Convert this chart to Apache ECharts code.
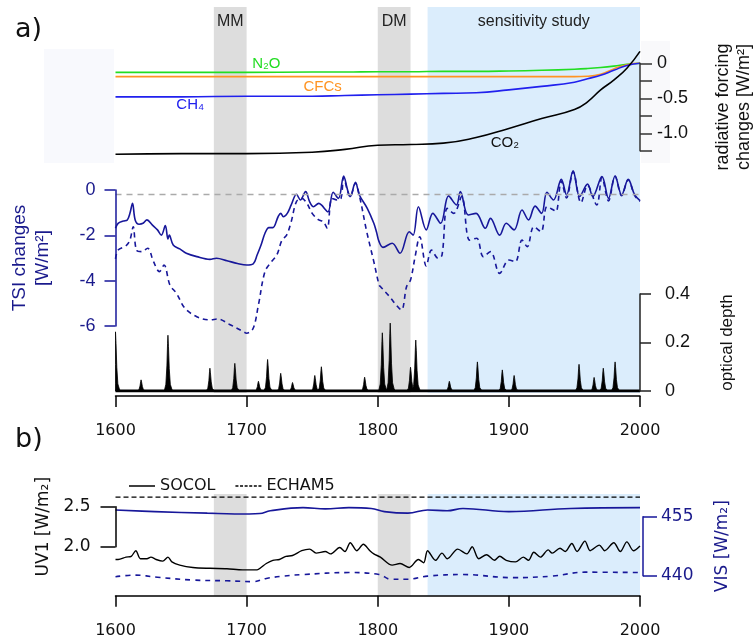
<!DOCTYPE html>
<html><head><meta charset="utf-8">
<script src="https://cdn.jsdelivr.net/npm/echarts@6/dist/echarts.min.js"></script>
<style>html,body{margin:0;padding:0;background:#fff}#c{width:753px;height:638px}</style>
</head><body><div id="c"></div>
<script>
// ---------- data ----------
const BAND_NAMES = ['MM', 'DM', 'sensitivity study'];
const BAND_START = [1675, 1800, 1838];
const BAND_END   = [1700, 1825, 2000];

const RF_YEARS = [1600,1650,1700,1750,1775,1800,1825,1850,1875,1900,1925,1950,1960,1970,1980,1990,2000];
const RF_CO2 = [-1.30,-1.29,-1.29,-1.27,-1.23,-1.17,-1.16,-1.14,-1.06,-0.93,-0.79,-0.66,-0.55,-0.38,-0.24,-0.07,0.17];
const RF_CH4 = [-0.48,-0.48,-0.47,-0.47,-0.46,-0.45,-0.44,-0.43,-0.42,-0.38,-0.33,-0.27,-0.22,-0.17,-0.10,-0.03,0.0];
const RF_CFC = [-0.19,-0.19,-0.19,-0.19,-0.19,-0.19,-0.19,-0.19,-0.19,-0.19,-0.19,-0.19,-0.185,-0.155,-0.08,-0.02,0.0];
const RF_N2O = [-0.13,-0.13,-0.13,-0.125,-0.125,-0.12,-0.12,-0.115,-0.115,-0.11,-0.10,-0.085,-0.075,-0.06,-0.04,-0.015,0.0];
const RF_LABELS = [['N₂O',1715,-0.01],['CFCs',1758,-0.34],['CH₄',1657,-0.60],['CO₂',1897,-1.14]];
const RF_TICK_LABELS = [[0,'0'],[-0.5,'-0.5'],[-1,'-1.0']];

const TSI_REF = -0.2;
const TSI_SOLID = [[1600,-1.69],[1602,-1.47],[1606,-1.37],[1609,-1.32],[1611,-1.03],[1613,-0.59],[1615,-1.32],[1618,-1.51],[1621,-1.47],[1624,-1.32],[1628,-1.54],[1632,-1.76],[1635,-1.99],[1638,-1.57],[1640,-2.16],[1641,-1.99],[1644,-2.43],[1649,-2.6],[1654,-2.79],[1662,-2.94],[1672,-3.06],[1677,-3.01],[1685,-3.12],[1693,-3.24],[1700,-3.31],[1705,-3.26],[1708,-2.87],[1711,-2.43],[1714,-1.91],[1717,-1.66],[1720,-1.66],[1724,-1.18],[1726,-1.03],[1728,-1.18],[1731,-1.03],[1734,-0.66],[1738,-0.19],[1741,-0.44],[1745,-0.07],[1748,-0.51],[1751,-0.74],[1755,-0.59],[1757,-0.66],[1762,-0.96],[1766,-0.10],[1770,-0.37],[1774,0.62],[1777,0.0],[1779,-0.29],[1783,0.34],[1786,-0.22],[1792,-0.81],[1797,-1.47],[1799,-1.84],[1801,-2.28],[1804,-2.53],[1811,-2.35],[1817,-2.79],[1824,-1.84],[1827,-1.99],[1831,-0.74],[1837,-1.76],[1842,-1.03],[1848,-1.47],[1854,-0.26],[1860,-0.66],[1863,-0.07],[1869,-1.10],[1875,-1.03],[1882,-1.69],[1886,-1.25],[1893,-1.99],[1898,-1.47],[1904,-1.76],[1910,-0.88],[1915,-1.32],[1920,-0.71],[1925,-1.03],[1929,-0.10],[1934,-0.44],[1940,0.47],[1944,-0.22],[1949,0.85],[1954,-0.29],[1960,0.26],[1964,-0.29],[1971,0.59],[1976,-0.37],[1981,0.62],[1986,-0.22],[1991,0.47],[1996,-0.22],[2000,-0.47]];
const TSI_DASHED = [[1600,-3.04],[1602,-2.65],[1608,-2.46],[1611,-2.21],[1613.5,-1.62],[1616,-2.65],[1620,-2.72],[1624.5,-2.57],[1629,-3.16],[1633.5,-3.6],[1637,-3.31],[1641.5,-4.19],[1646.5,-4.56],[1653,-5.22],[1662,-5.59],[1672,-5.73],[1678,-5.69],[1687,-5.93],[1697.5,-6.25],[1700,-6.32],[1705,-6.1],[1709,-5.07],[1714,-3.6],[1719,-3.16],[1723,-2.87],[1727,-2.21],[1730.5,-1.99],[1734,-1.4],[1738,-0.51],[1742,-0.37],[1746,-0.59],[1750,-1.03],[1755,-1.32],[1758.5,-1.4],[1761.5,-1.69],[1765,-0.37],[1769,-0.44],[1772,-0.37],[1774,0.55],[1777,-0.05],[1779,-0.3],[1783,0.3],[1786,-0.25],[1791.6,-1.84],[1797,-3.16],[1801,-4.19],[1802,-4.26],[1809,-4.7],[1813,-5.0],[1818,-5.29],[1822,-4.26],[1825,-3.97],[1828.5,-2.94],[1832,-2.06],[1837,-3.35],[1841,-2.65],[1846,-3.01],[1849,-2.87],[1853,-0.81],[1858,-1.03],[1864,-0.29],[1870,-2.21],[1875.5,-2.13],[1880.5,-2.94],[1886,-2.72],[1893,-3.68],[1900,-3.09],[1905,-3.16],[1910,-2.21],[1914,-2.5],[1919,-1.62],[1924.5,-1.84],[1929,-0.74],[1934,-0.88],[1936,-0.95],[1940,0.4],[1944,-0.35],[1949,0.8],[1955,-0.56],[1960,0.2],[1967,-0.66],[1971,0.55],[1976,-0.48],[1981,0.6],[1986,-0.25],[1991,0.45],[1996,-0.25],[2000,-0.5]];

const VOLC_YEARS = [1600,1619.5,1640,1672,1691,1709,1716,1726,1735,1752,1757,1790,1803.5,1809.5,1825,1829,1854.6,1876,1895,1904,1953.5,1965,1972,1981];
const VOLC_TAU   = [0.244,0.046,0.23,0.094,0.114,0.04,0.13,0.073,0.035,0.064,0.10,0.057,0.24,0.28,0.098,0.21,0.04,0.12,0.087,0.064,0.11,0.056,0.094,0.12];

const UV_SOCOL = [[1600,1.84],[1602,1.84],[1608,1.87],[1612,1.88],[1615.5,1.95],[1619,1.85],[1624,1.85],[1627,1.87],[1631,1.84],[1636,1.82],[1640,1.87],[1643,1.81],[1649,1.77],[1659,1.74],[1672,1.73],[1685,1.725],[1697,1.71],[1708,1.71],[1711,1.74],[1715,1.79],[1720,1.83],[1725,1.84],[1730,1.88],[1735,1.89],[1742,1.95],[1748,1.97],[1753,1.92],[1760,1.94],[1764,1.91],[1771,1.99],[1775,1.94],[1779,2.05],[1784,1.95],[1789,2.03],[1794,1.95],[1797,1.91],[1802,1.87],[1811,1.77],[1817,1.79],[1824,1.74],[1831,1.84],[1835,1.80],[1838,1.95],[1844,1.83],[1849,1.92],[1853,1.85],[1861,1.97],[1868,1.91],[1872,2.0],[1877,1.85],[1883,1.90],[1889,1.83],[1893,1.88],[1898,1.83],[1905,1.81],[1911,1.87],[1915,1.83],[1919,1.93],[1924,1.87],[1930,1.96],[1933,1.92],[1939,1.98],[1943,1.94],[1948,2.04],[1952,1.94],[1958,2.07],[1962,1.95],[1969,2.02],[1973,1.95],[1980,2.05],[1985,1.94],[1990,2.06],[1995,1.95],[2000,2.01]];
const UV_ECHAM = [[1600,2.62],[2000,2.62]];
const VIS_SOCOL = [[1600,456.7],[1630,456.3],[1670,455.9],[1702,455.7],[1710,455.8],[1718,456.5],[1743,457.3],[1760,457.0],[1778,457.3],[1795,457.1],[1805,456.3],[1823,455.9],[1838,456.7],[1853,456.5],[1865,457.1],[1900,456.3],[1947,457.1],[2000,457.3]];
const VIS_ECHAM = [[1600,439.75],[1615,440.15],[1632,439.6],[1659,438.9],[1685,438.7],[1705,438.5],[1715,439.3],[1728,439.9],[1743,440.3],[1778,440.8],[1801,440.3],[1810,439.1],[1823,439.1],[1838,439.9],[1865,440.3],[1903,439.5],[1933,439.9],[1958,440.9],[2000,440.8]];

// ---------- chart ----------
const NAVY = '#17179a';
const NAVY_TXT = '#1a1a8c';
const HELV = 'Liberation Sans';
const DEJA = 'DejaVu Sans';
const GL = 115.5, GR = 113;

function zip(xs, ys){ return xs.map((x,i)=>[x, ys[i]]); }
function mkGrid(top, height){ return {left:GL, right:GR, top:top, height:height, containLabel:false, outerBoundsMode:'none'}; }
function hiddenX(gi){ return {gridIndex:gi, type:'value', min:1600, max:2000, show:false, axisLine:{onZero:false}}; }
function visibleX(gi, offset){
  return {gridIndex:gi, type:'value', min:1600, max:2000, interval:100, position:'bottom', offset:offset, z:5,
    axisLine:{show:true, onZero:false, lineStyle:{color:'#000', width:1.5}},
    axisTick:{show:true, length:11, lineStyle:{color:'#000', width:1.5}},
    axisLabel:{margin:27, fontSize:16, fontFamily:DEJA, color:'#111', formatter:v=>String(v)},
    splitLine:{show:false}};
}

const chart = echarts.init(document.getElementById('c'), null, {renderer:'canvas'});

const bandAreas = BAND_NAMES.map((n,i)=>[
  {xAxis:BAND_START[i], name:n, itemStyle:{color: i<2 ? '#dddddd' : '#dbedfc'}},
  {xAxis:BAND_END[i]}
]);

const option = {
  animation:false,
  backgroundColor:'#fff',
  grid:[
    mkGrid(7, 386),        // 0 bands a
    mkGrid(63.3, 87.5),    // 1 radiative forcing
    mkGrid(190, 136),      // 2 TSI
    mkGrid(294, 97),       // 3 optical depth
    mkGrid(494, 101.7),    // 4 bands b
    mkGrid(506.7, 40),     // 5 UV1
    mkGrid(516.7, 59)      // 6 VIS
  ],
  xAxis:[hiddenX(0), hiddenX(1), hiddenX(2), visibleX(3,5), visibleX(4,0), hiddenX(5), hiddenX(6)],
  yAxis:[
    {gridIndex:0, type:'value', min:0, max:1, show:false},
    {gridIndex:1, type:'value', position:'right', min:-1.25, max:0, interval:0.25, z:5,
      axisLine:{show:true, lineStyle:{color:'#333', width:1.5}},
      axisTick:{show:true, length:12, lineStyle:{color:'#333', width:1.5}},
      axisLabel:{margin:17, fontSize:18, fontFamily:HELV, color:'#111',
        formatter:v=>{const t=RF_TICK_LABELS.find(a=>Math.abs(a[0]-v)<1e-6); return t?t[1]:'';}},
      splitLine:{show:false},
      name:'radiative forcing\nchanges [W/m²]', nameLocation:'middle', nameGap:73,
      nameTextStyle:{fontSize:18, lineHeight:21, fontFamily:HELV, color:'#111'}},
    {gridIndex:2, type:'value', position:'left', min:-6, max:0, interval:2, z:5,
      axisLine:{show:true, lineStyle:{color:NAVY, width:1.5}},
      axisTick:{show:true, length:11, lineStyle:{color:NAVY, width:1.5}},
      axisLabel:{margin:20, fontSize:18, fontFamily:HELV, color:NAVY_TXT},
      splitLine:{show:false},
      name:'TSI changes\n[W/m²]', nameLocation:'middle', nameGap:61,
      nameTextStyle:{fontSize:19, lineHeight:23, fontFamily:HELV, color:NAVY_TXT}},
    {gridIndex:3, type:'value', position:'right', min:0, max:0.4, interval:0.2, z:5,
      axisLine:{show:true, lineStyle:{color:'#222', width:1.5}},
      axisTick:{show:true, length:11, lineStyle:{color:'#222', width:1.5}},
      axisLabel:{margin:25, fontSize:18, fontFamily:HELV, color:'#111', formatter:v=> v===0?'0':v.toFixed(1)},
      splitLine:{show:false},
      name:'optical depth', nameLocation:'middle', nameGap:79,
      nameTextStyle:{fontSize:17, fontFamily:HELV, color:'#111'}},
    {gridIndex:4, type:'value', min:0, max:1, show:false},
    {gridIndex:5, type:'value', position:'left', min:2.0, max:2.5, interval:0.5, z:5,
      axisLine:{show:true, lineStyle:{color:'#000', width:1.5}},
      axisTick:{show:true, length:15, lineStyle:{color:'#000', width:1.5}},
      axisLabel:{margin:25, fontSize:17, fontFamily:DEJA, color:'#111', formatter:v=>v.toFixed(1)},
      splitLine:{show:false},
      name:'UV1 [W/m₂]', nameLocation:'middle', nameGap:60,
      nameTextStyle:{fontSize:17, fontFamily:DEJA, color:'#111'}},
    {gridIndex:6, type:'value', position:'right', offset:3, min:440, max:455, interval:15, z:5,
      axisLine:{show:true, lineStyle:{color:NAVY, width:1.5}},
      axisTick:{show:true, length:14, lineStyle:{color:NAVY, width:1.5}},
      axisLabel:{margin:18, fontSize:17, fontFamily:DEJA, color:NAVY_TXT},
      splitLine:{show:false},
      name:'VIS [W/m₂]', nameLocation:'middle', nameGap:71,
      nameTextStyle:{fontSize:17, fontFamily:DEJA, color:NAVY_TXT}}
  ],
  legend:{
    left:124, top:473, itemWidth:26, itemHeight:1.5, itemGap:20,
    data:[
      {name:'SOCOL', icon:'path://M0,0H26V1.5H0Z'},
      {name:'ECHAM5', icon:'path://M0,0H3V1.5H0Z M4.6,0H7.6V1.5H4.6Z M9.2,0H12.2V1.5H9.2Z M13.8,0H16.8V1.5H13.8Z M18.4,0H21.4V1.5H18.4Z M23,0H26V1.5H23Z'}
    ],
    textStyle:{fontSize:16, fontFamily:DEJA, color:'#111'}
  },
  graphic:[
    {type:'rect', z:-10, shape:{x:44, y:49, width:70, height:114}, style:{fill:'#f8f9fd'}},
    {type:'rect', z:-10, shape:{x:641, y:41, width:29, height:122}, style:{fill:'#f9f9fb'}},
    {type:'text', left:15, top:16, style:{text:'a)', font:'27px "DejaVu Sans"', fill:'#111'}},
    {type:'text', left:15, top:426, style:{text:'b)', font:'27px "DejaVu Sans"', fill:'#111'}}
  ],
  series:[
    // bands panel a
    {type:'line', xAxisIndex:0, yAxisIndex:0, z:0, data:[], symbol:'none', silent:true,
      markArea:{silent:true, data:bandAreas,
        label:{show:true, position:'insideTop', distance:7, fontSize:16, fontFamily:HELV, color:'#222'}}},
    // bands panel b
    {type:'line', xAxisIndex:4, yAxisIndex:4, z:0, data:[], symbol:'none', silent:true,
      markArea:{silent:true, data:bandAreas.map(a=>[{xAxis:a[0].xAxis, itemStyle:a[0].itemStyle},{xAxis:a[1].xAxis}]), label:{show:false}}},
    // radiative forcing
    {name:'N2O', type:'line', xAxisIndex:1, yAxisIndex:1, z:3, clip:false, smooth:true, symbol:'none',
      data:zip(RF_YEARS, RF_N2O), lineStyle:{color:'#22dd22', width:1.6}},
    {name:'CFCs', type:'line', xAxisIndex:1, yAxisIndex:1, z:3, clip:false, smooth:true, symbol:'none',
      data:zip(RF_YEARS, RF_CFC), lineStyle:{color:'#ff9422', width:1.6}},
    {name:'CH4', type:'line', xAxisIndex:1, yAxisIndex:1, z:3, clip:false, smooth:true, symbol:'none',
      data:zip(RF_YEARS, RF_CH4), lineStyle:{color:'#2020ee', width:1.6}},
    {name:'CO2', type:'line', xAxisIndex:1, yAxisIndex:1, z:3, clip:false, smooth:true, symbol:'none',
      data:zip(RF_YEARS, RF_CO2), lineStyle:{color:'#000', width:1.6},
      markPoint:{symbol:'circle', symbolSize:0, silent:true,
        data:RF_LABELS.map((l,i)=>({coord:[l[1], l[2]], value:l[0],
          label:{show:true, position:'inside', formatter:l[0], fontSize:15, fontFamily:HELV,
            color:['#22dd22','#ff9422','#2020ee','#111'][i]}}))}},
    // TSI
    {name:'TSI solid', type:'line', xAxisIndex:2, yAxisIndex:2, z:3, clip:false, smooth:0.35, symbol:'none',
      data:TSI_SOLID, lineStyle:{color:NAVY, width:1.6},
      markLine:{symbol:'none', silent:true, label:{show:false},
        lineStyle:{color:'#aaaaaa', type:[6,5], width:1.3}, data:[{yAxis:TSI_REF}]}},
    {name:'TSI dashed', type:'line', xAxisIndex:2, yAxisIndex:2, z:3, clip:false, smooth:0.35, symbol:'none',
      data:TSI_DASHED, lineStyle:{color:NAVY, width:1.6, type:[5,4]}},
    // optical depth
    {name:'baseline', type:'line', xAxisIndex:3, yAxisIndex:3, z:3, symbol:'none',
      data:[[1600,0],[2000,0]], lineStyle:{color:'#000', width:3}},
    {name:'volcanic', type:'custom', xAxisIndex:3, yAxisIndex:3, z:3,
      data:zip(VOLC_YEARS, VOLC_TAU),
      renderItem:function(params, api){
        const yr = api.value(0), p = api.value(1);
        const tpl = [[-2.8,0],[-1.6,0.12],[-0.8,0.45],[-0.3,0.85],[0,1],[0.4,0.8],[1.0,0.4],[1.8,0.12],[3.0,0.03],[4.0,0]];
        const pts = tpl.map(s=>api.coord([Math.min(2000, Math.max(1600, yr+s[0])), p*s[1]]));
        return {type:'polygon', shape:{points:pts}, style:{fill:'#000', stroke:'#000', lineWidth:0.8}};
      }},
    // panel b
    {name:'SOCOL', type:'line', xAxisIndex:5, yAxisIndex:5, z:3, clip:false, smooth:0.3, symbol:'none',
      data:UV_SOCOL, lineStyle:{color:'#000', width:1.4}, itemStyle:{color:'#000'}},
    {name:'ECHAM5', type:'line', xAxisIndex:5, yAxisIndex:5, z:3, clip:false, symbol:'none',
      data:UV_ECHAM, lineStyle:{color:'#000', width:1.4, type:[5,3]}, itemStyle:{color:'#000'}},
    {name:'SOCOL VIS', type:'line', xAxisIndex:6, yAxisIndex:6, z:3, clip:false, smooth:0.4, symbol:'none',
      data:VIS_SOCOL, lineStyle:{color:NAVY, width:1.6}},
    {name:'ECHAM5 VIS', type:'line', xAxisIndex:6, yAxisIndex:6, z:3, clip:false, smooth:0.4, symbol:'none',
      data:VIS_ECHAM, lineStyle:{color:NAVY, width:1.6, type:[5,5]}}
  ]
};
chart.setOption(option);
</script>
</body></html>
